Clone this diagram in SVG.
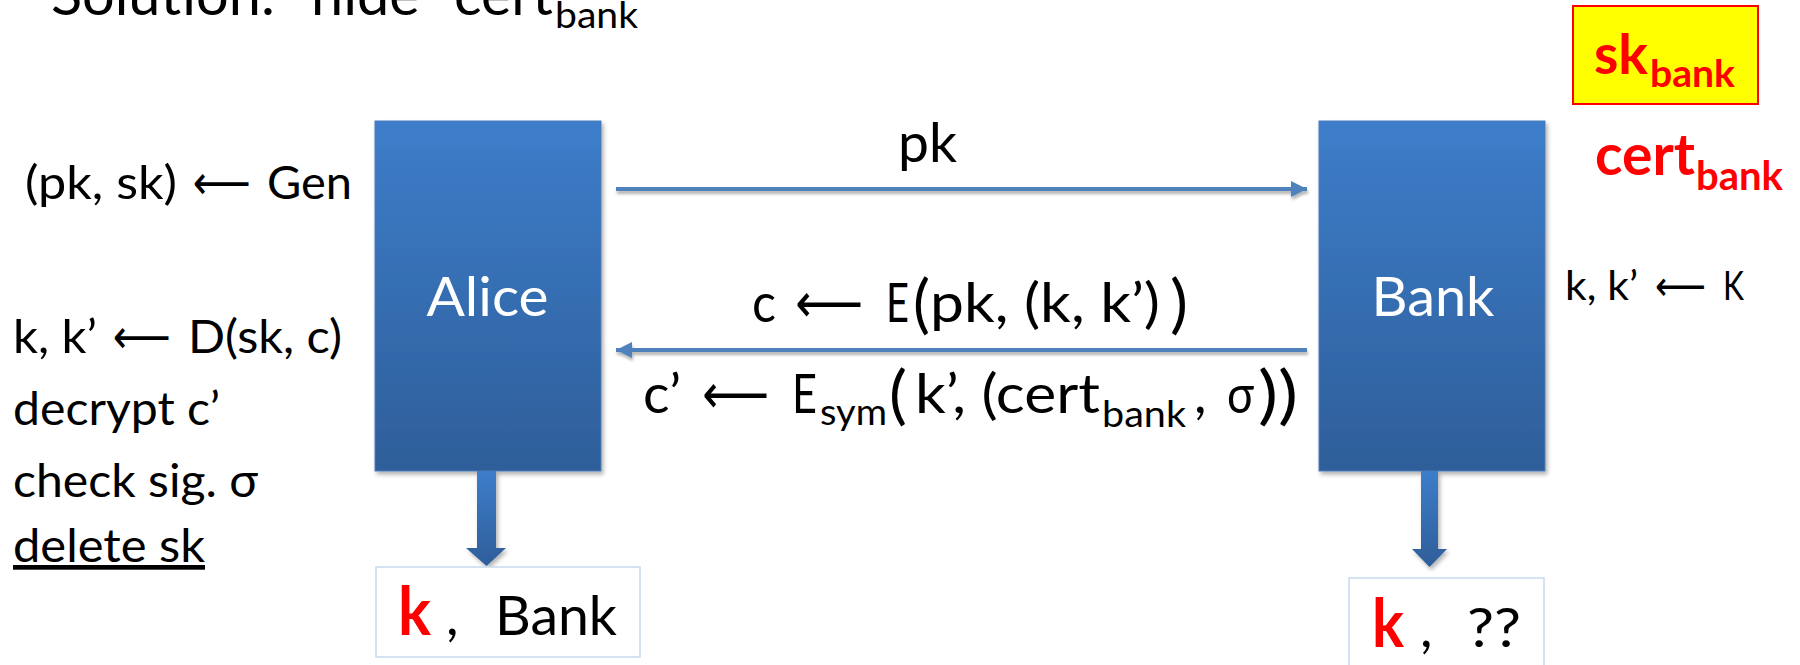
<svg xmlns="http://www.w3.org/2000/svg" width="1800" height="665" viewBox="0 0 1800 665">
<style>
text{font-family:Lato,"Liberation Sans",sans-serif;fill:#000}
.arr{font-family:"DejaVu Sans",sans-serif}
.lab{font-size:47px}
.big{font-size:55px}
.sub{font-size:36px}
.red{fill:#ff0000;font-weight:bold}
.wh{fill:#ffffff;font-size:55px}
.conn{stroke:#4f81bd;stroke-width:4;fill:none}
</style>
<defs>
<linearGradient id="gBox" x1="0" y1="0" x2="0" y2="1">
<stop offset="0" stop-color="#3d7dca"/>
<stop offset="1" stop-color="#2e5e99"/>
</linearGradient>
<filter id="sh" x="-10%" y="-10%" width="130%" height="130%">
<feDropShadow dx="2" dy="3" stdDeviation="2" flood-color="#000" flood-opacity="0.3"/>
</filter>
<filter id="shl" filterUnits="userSpaceOnUse" x="0" y="0" width="1800" height="665">
<feDropShadow dx="1" dy="3" stdDeviation="1.5" flood-color="#000" flood-opacity="0.3"/>
</filter>
<marker id="ah" viewBox="0 0 16 16" refX="16" refY="8" markerWidth="16" markerHeight="16" markerUnits="userSpaceOnUse" orient="auto">
<path d="M0,0 L16,8 L0,16 z" fill="#4f81bd"/>
</marker>
</defs>

<g id="title">
<text x="51" y="15" font-size="56" textLength="502" lengthAdjust="spacingAndGlyphs">Solution: “hide” cert</text>
<text x="555" y="28" font-size="36" textLength="83" lengthAdjust="spacingAndGlyphs">bank</text>
</g>

<g id="skbank">
<rect x="1573" y="6" width="185" height="98" fill="#ffff00" stroke="#ff0000" stroke-width="2"/>
<text class="red" x="1594" y="74" font-size="56" textLength="54" lengthAdjust="spacingAndGlyphs">sk</text>
<text class="red" x="1650" y="87" font-size="38" textLength="85" lengthAdjust="spacingAndGlyphs">bank</text>
</g>

<g id="certbank">
<text class="red" x="1595" y="175" font-size="57" textLength="100" lengthAdjust="spacingAndGlyphs">cert</text>
<text class="red" x="1696" y="190" font-size="40" textLength="87" lengthAdjust="spacingAndGlyphs">bank</text>
</g>

<g id="alice-notes">
<text class="lab" x="25" y="199" textLength="152" lengthAdjust="spacingAndGlyphs">(pk, sk)</text>
<text class="lab arr" x="193" y="199" textLength="58" lengthAdjust="spacingAndGlyphs">⟵</text>
<text class="lab" x="267" y="199" textLength="85" lengthAdjust="spacingAndGlyphs">Gen</text>
<text class="lab" x="13" y="353" textLength="84" lengthAdjust="spacingAndGlyphs">k, k’</text>
<text class="lab arr" x="113" y="353" textLength="58" lengthAdjust="spacingAndGlyphs">⟵</text>
<text class="lab" x="188" y="353" textLength="154" lengthAdjust="spacingAndGlyphs">D(sk, c)</text>
<text class="lab" x="13" y="425" textLength="207" lengthAdjust="spacingAndGlyphs">decrypt c’</text>
<text class="lab" x="13" y="497" textLength="245" lengthAdjust="spacingAndGlyphs">check sig. σ</text>
<text class="lab" x="13" y="562" textLength="192" lengthAdjust="spacingAndGlyphs" text-decoration="underline">delete sk</text>
</g>

<g id="bank-notes">
<text x="1565" y="300" font-size="41" textLength="73" lengthAdjust="spacingAndGlyphs">k, k’</text>
<text class="arr" x="1655" y="300" font-size="41" textLength="51" lengthAdjust="spacingAndGlyphs">⟵</text>
<text x="1723" y="300" font-size="41" textLength="21" lengthAdjust="spacingAndGlyphs">K</text>
</g>

<g id="alice">
<rect x="375" y="121" width="226" height="350" fill="url(#gBox)" stroke="#4a7ebb" stroke-width="1" filter="url(#sh)"/>
<text class="wh" x="487.5" y="316" text-anchor="middle" textLength="122" lengthAdjust="spacingAndGlyphs">Alice</text>
</g>

<g id="bank">
<rect x="1319" y="121" width="226" height="350" fill="url(#gBox)" stroke="#4a7ebb" stroke-width="1" filter="url(#sh)"/>
<text class="wh" x="1433" y="316" text-anchor="middle" textLength="123" lengthAdjust="spacingAndGlyphs">Bank</text>
</g>

<g id="connectors">
<line class="conn" x1="616" y1="189" x2="1307" y2="189" marker-end="url(#ah)" filter="url(#shl)"/>
<line class="conn" x1="1307" y1="350" x2="616" y2="350" marker-end="url(#ah)" filter="url(#shl)"/>
<polygon points="477,471 496,471 496,548 506,548 486.5,566 466,548 477,548" fill="url(#gBox)" filter="url(#sh)"/>
<polygon points="1421,471 1438,471 1438,549 1447,549 1429.5,567 1412,549 1421,549" fill="url(#gBox)" filter="url(#sh)"/>
</g>

<g id="msg-labels">
<text class="big" x="898" y="162" textLength="59" lengthAdjust="spacingAndGlyphs">pk</text>
<text class="big" x="752" y="322" textLength="24" lengthAdjust="spacingAndGlyphs">c</text>
<text class="big arr" x="795" y="322" textLength="68" lengthAdjust="spacingAndGlyphs">⟵</text>
<text class="big" x="886" y="322" textLength="23" lengthAdjust="spacingAndGlyphs">E</text>
<text x="913" y="326" font-size="64" textLength="17" lengthAdjust="spacingAndGlyphs">(</text>
<text class="big" x="930" y="322" textLength="230" lengthAdjust="spacingAndGlyphs">pk, (k, k’)</text>
<text x="1170" y="326" font-size="64" textLength="18" lengthAdjust="spacingAndGlyphs">)</text>

<text class="big" x="643" y="413" textLength="38" lengthAdjust="spacingAndGlyphs">c’</text>
<text class="big arr" x="702" y="413" textLength="67" lengthAdjust="spacingAndGlyphs">⟵</text>
<text class="big" x="792" y="413" textLength="25" lengthAdjust="spacingAndGlyphs">E</text>
<text class="sub" x="820" y="425" textLength="67" lengthAdjust="spacingAndGlyphs">sym</text>
<text x="889" y="417" font-size="64" textLength="18" lengthAdjust="spacingAndGlyphs">(</text>
<text class="big" x="915" y="413" textLength="185" lengthAdjust="spacingAndGlyphs">k’, (cert</text>
<text class="sub" x="1102" y="427" textLength="84" lengthAdjust="spacingAndGlyphs">bank</text>
<text class="big" x="1194" y="413">,</text>
<text class="big" x="1227" y="413" textLength="27" lengthAdjust="spacingAndGlyphs">σ</text>
<text x="1258" y="417" font-size="64" textLength="40" lengthAdjust="spacingAndGlyphs">))</text>
</g>

<g id="alice-result">
<rect x="376" y="567" width="264" height="90" fill="#ffffff" stroke="#c6d9f1" stroke-width="1.5"/>
<text class="red" x="398" y="635" font-size="66" font-weight="900" textLength="33" lengthAdjust="spacingAndGlyphs">k</text>
<text class="big" x="446" y="635">,</text>
<text class="big" x="495" y="635" font-size="57" textLength="122" lengthAdjust="spacingAndGlyphs">Bank</text>
</g>

<g id="bank-result">
<rect x="1349" y="578" width="195" height="100" fill="#ffffff" stroke="#c6d9f1" stroke-width="1.5"/>
<text class="red" x="1372" y="647" font-size="66" font-weight="900" textLength="32" lengthAdjust="spacingAndGlyphs">k</text>
<text class="big" x="1420" y="647">,</text>
<text class="big" x="1467" y="647" textLength="54" lengthAdjust="spacingAndGlyphs">??</text>
</g>
</svg>
